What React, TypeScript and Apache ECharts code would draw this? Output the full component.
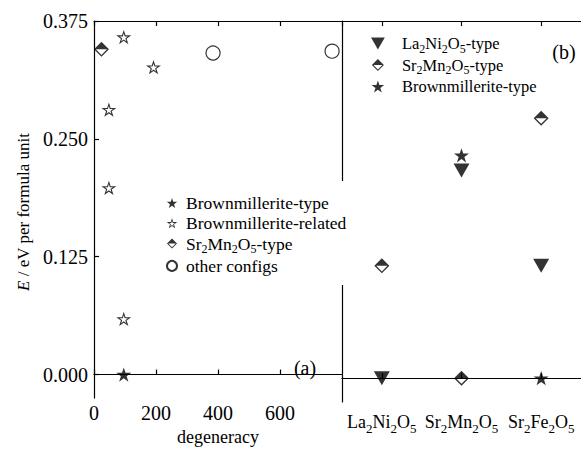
import { useEffect, useRef } from 'react';
import * as echarts from 'echarts';

const FONT = 'Liberation Serif, DejaVu Serif, serif';

// ---- data ----
const compounds = ['La2Ni2O5', 'Sr2Mn2O5', 'Sr2Fe2O5'];
const yTickValues = [0, 0.125, 0.25, 0.375];
const degMin = 0;
const degMax = 800;
const degStep = 200;
const eMin = -0.025;
const eMax = 0.375;

// panel (a): [degeneracy, E (eV per formula unit)]
const bmTypeA = [[96, 0.0]];
const bmRelatedA = [[96, 0.059], [48, 0.198], [48, 0.281], [96, 0.358], [192, 0.326]];
const smTypeA = [[24, 0.345]];
const otherConfigsA = [[384, 0.341], [768, 0.343]];

// panel (b): E per compound
const lnTypeB = [0.0, 0.218, 0.118];
const smTypeB = [0.118, 0.0, 0.273];
const bmTypeB = [null, 0.234, 0.0];

const legendA = ['Brownmillerite-type', 'Brownmillerite-related', 'Sr2Mn2O5-type', 'other configs'];
const legendB = ['La2Ni2O5-type', 'Sr2Mn2O5-type', 'Brownmillerite-type'];

// ---- symbols ----
const STAR = 'path://M50,0 L61.2,34.5 L97.6,34.5 L68.2,55.9 L79.4,90.5 L50,69.1 L20.6,90.5 L31.8,55.9 L2.4,34.5 L38.8,34.5 Z';
const OPEN_STAR =
  'path://M50,0 L61.2,34.5 L97.6,34.5 L68.2,55.9 L79.4,90.5 L50,69.1 L20.6,90.5 L31.8,55.9 L2.4,34.5 L38.8,34.5 Z ' +
  'M50,22.65 L43.87,41.52 L23.96,41.52 L40.04,53.23 L33.92,72.15 L50,60.45 L66.08,72.15 L59.96,53.23 L76.04,41.52 L56.13,41.52 Z';
const DOWN_TRI = 'path://M0,0 L100,0 L50,87 Z';
const HALF_DIAMOND =
  'path://M50,0 L100,50 L0,50 Z M0,50 L100,50 L50,100 Z M12.7,50 L50,87.3 L87.3,50 Z';

const richText = (t: string) =>
  t
    .split(/(\d+)/)
    .filter((p) => p !== '')
    .map((p) => (/^\d+$/.test(p) ? `{s|${p}}` : `{n|${p}}`))
    .join('');

const numRich = { t: { fontSize: 20, fontFamily: FONT, color: '#000' } };
const nameRich = { t: { fontSize: 18, fontFamily: FONT, color: '#000' } };
const axisRich = {
  n: { fontSize: 18, lineHeight: 26, fontFamily: FONT, color: '#000' },
  s: { fontSize: 13, lineHeight: 12, verticalAlign: 'bottom', fontFamily: FONT, color: '#000' },
};
const legendRichA = {
  n: { fontSize: 17.5, lineHeight: 22, fontFamily: FONT, color: '#000' },
  s: { fontSize: 12, lineHeight: 11, verticalAlign: 'bottom', fontFamily: FONT, color: '#000' },
};
const legendRichB = {
  n: { fontSize: 16.5, lineHeight: 22, fontFamily: FONT, color: '#000' },
  s: { fontSize: 12, lineHeight: 11, verticalAlign: 'bottom', fontFamily: FONT, color: '#000' },
};

const line = { show: true, lineStyle: { color: '#000', width: 1.2 } };
const tick = { show: true, inside: true, length: 5, lineStyle: { color: '#000', width: 1.2 } };

export default function App() {
  const ref = useRef<HTMLDivElement>(null);
  useEffect(() => {
    if (!ref.current) return;
    const chart = echarts.init(ref.current, undefined, { renderer: 'svg' });
    const filledStar = { symbol: STAR, symbolSize: 15, symbolKeepAspect: true, itemStyle: { color: '#000' } };
    const openStar = { symbol: OPEN_STAR, symbolSize: 15, symbolKeepAspect: true, itemStyle: { color: '#000' } };
    const halfDiamond = { symbol: HALF_DIAMOND, symbolSize: 15, itemStyle: { color: '#000' } };
    const openCircle = {
      symbol: 'circle',
      symbolSize: 14,
      itemStyle: { color: '#fff', borderColor: '#000', borderWidth: 1.2 },
    };
    const downTri = { symbol: DOWN_TRI, symbolSize: [16, 14], itemStyle: { color: '#000' } };

    chart.setOption({
      animation: false,
      backgroundColor: '#fff',
      textStyle: { fontFamily: FONT, color: '#000' },
      grid: [
        { left: 94, top: 21, width: 248, height: 381 },
        { left: 342, top: 21, width: 249, height: 381 },
      ],
      xAxis: [
        {
          gridIndex: 0,
          type: 'value',
          position: 'bottom',
          min: degMin,
          max: degMax,
          interval: degStep,
          axisLine: line,
          axisTick: tick,
          splitLine: { show: false },
          axisLabel: { margin: 5, showMaxLabel: false, formatter: (v: number) => `{t|${v}}`, rich: numRich },
          name: '{t|degeneracy}',
          nameLocation: 'middle',
          nameGap: 29,
          nameTextStyle: { rich: nameRich },
        },
        {
          gridIndex: 0,
          type: 'value',
          position: 'top',
          min: degMin,
          max: degMax,
          interval: degStep,
          axisLine: line,
          axisTick: tick,
          splitLine: { show: false },
          axisLabel: { show: false },
        },
        {
          gridIndex: 1,
          type: 'category',
          position: 'bottom',
          data: compounds,
          axisLine: line,
          axisTick: { ...tick, alignWithLabel: true },
          axisLabel: { interval: 0, margin: 7, formatter: (v: string) => richText(v), rich: axisRich },
        },
        {
          gridIndex: 1,
          type: 'category',
          position: 'top',
          data: compounds,
          axisLine: line,
          axisTick: { ...tick, alignWithLabel: true },
          axisLabel: { show: false },
        },
      ],
      yAxis: [
        {
          gridIndex: 0,
          type: 'value',
          min: eMin,
          max: eMax,
          axisLine: line,
          axisTick: { ...tick, customValues: yTickValues },
          splitLine: { show: false },
          axisLabel: {
            customValues: yTickValues,
            formatter: (v: number) => `{t|${v.toFixed(3)}}`,
            rich: numRich,
            margin: 6,
          },
        },
        {
          gridIndex: 1,
          type: 'value',
          min: eMin,
          max: eMax,
          axisLine: line,
          axisTick: { show: false },
          axisLabel: { show: false },
          splitLine: { show: false },
        },
      ],
      legend: [
        {
          data: legendA,
          orient: 'vertical',
          left: 158,
          top: 181,
          padding: [13, 10, 10, 8],
          itemWidth: 18,
          itemHeight: 10,
          itemGap: 2.3,
          backgroundColor: '#fff',
          selectedMode: false,
          formatter: (n: string) => richText(n),
          textStyle: { rich: legendRichA },
        },
        {
          data: legendB,
          orient: 'vertical',
          left: 371,
          top: 35,
          padding: 0,
          itemWidth: 38,
          itemHeight: 12,
          itemGap: 2,
          selectedMode: false,
          formatter: (n: string) => richText(n),
          textStyle: { rich: legendRichB },
        },
      ],
      graphic: [
        {
          type: 'text',
          x: 23,
          y: 212,
          rotation: Math.PI / 2,
          style: {
            text: '{i|E}{n| / eV per formula unit}',
            align: 'center',
            verticalAlign: 'middle',
            rich: {
              i: { fontSize: 17, fontStyle: 'italic', fontFamily: FONT, fill: '#000' },
              n: { fontSize: 17, fontFamily: FONT, fill: '#000' },
            },
          },
        },
        {
          type: 'text',
          x: 305,
          y: 368,
          style: { text: '(a)', fontSize: 20, fontFamily: FONT, fill: '#000', align: 'center', verticalAlign: 'middle' },
        },
        {
          type: 'text',
          x: 564,
          y: 52,
          style: { text: '(b)', fontSize: 20, fontFamily: FONT, fill: '#000', align: 'center', verticalAlign: 'middle' },
        },
      ],
      series: [
        { name: 'Brownmillerite-type', type: 'scatter', xAxisIndex: 0, yAxisIndex: 0, data: bmTypeA, ...filledStar },
        { name: 'Brownmillerite-related', type: 'scatter', xAxisIndex: 0, yAxisIndex: 0, data: bmRelatedA, ...openStar },
        { name: 'Sr2Mn2O5-type', type: 'scatter', xAxisIndex: 0, yAxisIndex: 0, data: smTypeA, ...halfDiamond },
        { name: 'other configs', type: 'scatter', xAxisIndex: 0, yAxisIndex: 0, data: otherConfigsA, ...openCircle },
        { name: 'La2Ni2O5-type', type: 'scatter', xAxisIndex: 2, yAxisIndex: 1, data: lnTypeB, ...downTri },
        { name: 'Sr2Mn2O5-type', type: 'scatter', xAxisIndex: 2, yAxisIndex: 1, data: smTypeB, ...halfDiamond },
        { name: 'Brownmillerite-type', type: 'scatter', xAxisIndex: 2, yAxisIndex: 1, data: bmTypeB, ...filledStar },
      ],
    });
    return () => chart.dispose();
  }, []);
  return <div ref={ref} style={{ position: 'absolute', left: 0, top: 0, width: 581, height: 451 }} />;
}
